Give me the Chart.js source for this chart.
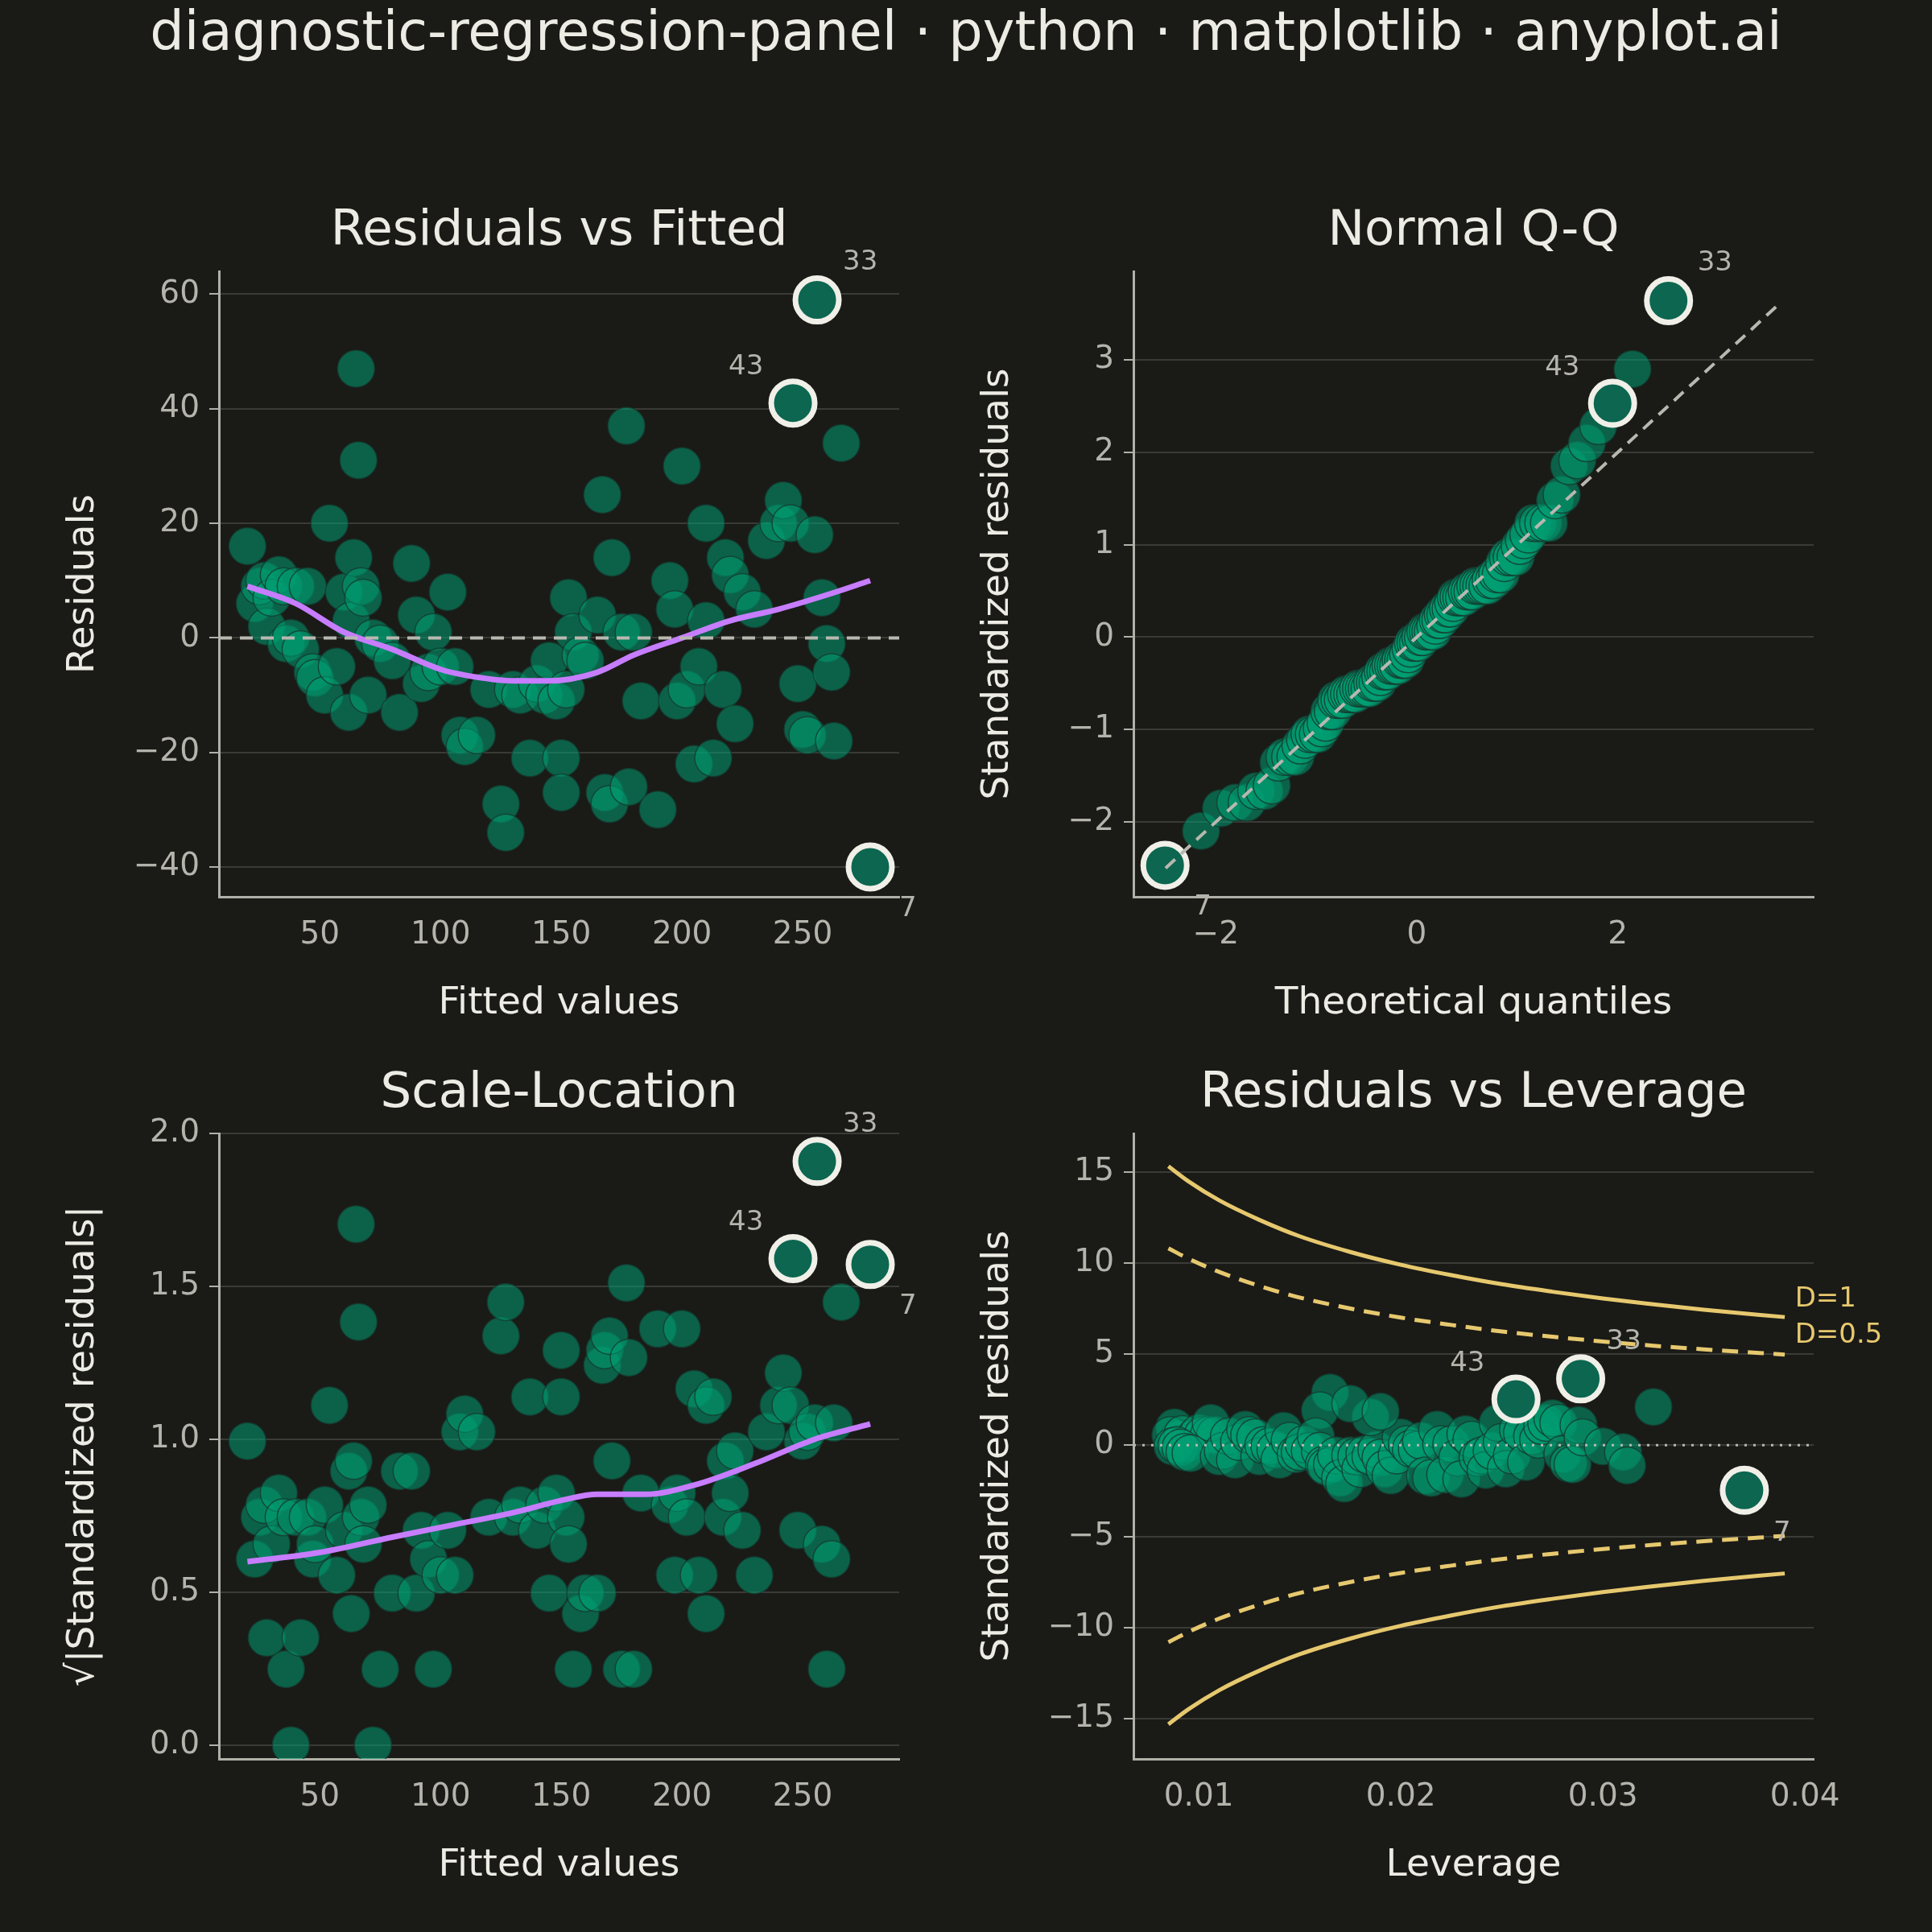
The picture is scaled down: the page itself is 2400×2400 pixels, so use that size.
<!DOCTYPE html>
<html>
<head>
<meta charset="utf-8">
<script src="https://cdn.jsdelivr.net/npm/chart.js@4.4.1/dist/chart.umd.min.js"></script>
<style>
  body { margin: 0; background: #1a1a17; width: 2400px; height: 2400px; position: relative; overflow: hidden;
         font-family: "DejaVu Sans", sans-serif; }
  canvas { position: absolute; }
  .title { position: absolute; color: #ecebe4; text-align: center; white-space: nowrap; }
</style>
</head>
<body>
<div class="title" style="left:0;width:2400px;top:0px;font-size:67px;">diagnostic-regression-panel · python · matplotlib · anyplot.ai</div>
<div class="title" style="left:272px;width:845px;top:247px;font-size:61px;">Residuals vs Fitted</div>
<div class="title" style="left:1408px;width:845px;top:247px;font-size:61px;">Normal Q-Q</div>
<div class="title" style="left:272px;width:845px;top:1318px;font-size:61px;">Scale-Location</div>
<div class="title" style="left:1408px;width:845px;top:1318px;font-size:61px;">Residuals vs Leverage</div>
<canvas id="c1"></canvas>
<canvas id="c2"></canvas>
<canvas id="c3"></canvas>
<canvas id="c4"></canvas>
<script>
// fitted values and residuals (ordinary points)
const fitted = [20,23,25,27,28,30,33,35,36,38,40,42,45,47,48,52,54,57,60,62,63,64,65,66,67,68,70,72,75,80,
  83,88,90,92,95,97,100,103,106,108,110,115,120,125,127,130,133,137,140,143,145,148,150,150,152,153,155,158,160,165,
  167,168,170,171,175,177,178,180,183,190,195,197,198,200,202,205,207,210,210,213,217,218,220,222,225,230,235,240,242,245,
  248,250,252,255,258,260,262,263,266];
const residuals = [16,6,9,10,2,7,11,9,-1,0,9,-2,9,-6,-7,-10,20,-5,8,-13,3,14,47,31,9,7,-10,0,-1,-4,
  -13,13,4,-8,-6,1,-5,8,-5,-17,-19,-17,-9,-29,-34,-9,-10,-21,-8,-10,-4,-11,-21,-27,-9,7,1,-3,-4,4,
  25,-27,-29,14,1,37,-26,1,-11,-30,10,5,-11,30,-9,-22,-5,20,3,-21,-9,14,11,-15,8,5,17,20,24,20,
  -8,-16,-17,18,7,-1,-6,-18,34];
const leverage = [0.0088,0.0090,0.0086,0.0092,0.0095,0.0098,0.0100,0.0102,0.0087,0.0089,0.0105,0.0091,0.0108,0.0093,0.0096,0.0110,0.0106,0.0112,0.0115,0.0118,
  0.0120,0.0123,0.0165,0.0160,0.0125,0.0128,0.0130,0.0132,0.0135,0.0138,0.0140,0.0142,0.0145,0.0148,0.0150,0.0152,0.0155,0.0158,0.0160,0.0162,
  0.0163,0.0166,0.0168,0.0170,0.0172,0.0175,0.0178,0.0180,0.0182,0.0185,0.0188,0.0190,0.0192,0.0195,0.0198,0.0200,0.0203,0.0205,0.0208,0.0210,
  0.0185,0.0212,0.0215,0.0218,0.0220,0.0175,0.0222,0.0225,0.0228,0.0230,0.0232,0.0235,0.0238,0.0190,0.0240,0.0242,0.0245,0.0248,0.0250,0.0252,
  0.0255,0.0258,0.0260,0.0262,0.0265,0.0268,0.0270,0.0272,0.0275,0.0278,0.0280,0.0283,0.0285,0.0288,0.0290,0.0300,0.0310,0.0312,0.0325];
// flagged observations
const flagLabels = ['33','43','7'];
const flagFitted = [256,246,278];
const flagResid = [59,41,-40];
const flagLeverage = [0.0289,0.0257,0.0370];
const sigma = 16.2;
// smoother lines
const loessX = [20,40,60,80,100,110,130,145,165,180,200,220,240,260,278];
const loessY = [9,6,1,-2,-5.5,-6.5,-7.5,-7.5,-6,-3,0,3,5,7.5,10];
const slLoessX = [20,50,80,105,130,150,165,185,205,230,255,278];
const slLoessY = [0.6,0.63,0.68,0.72,0.76,0.8,0.82,0.82,0.85,0.92,1.0,1.05];
// Cook's distance contours
const cookH = [0.0085,0.0095,0.011,0.013,0.015,0.0175,0.02,0.0225,0.025,0.0275,0.03,0.0325,0.035,0.039];
const cookD1 = [15.3,14.47,13.44,12.36,11.46,10.60,9.90,9.33,8.83,8.42,8.05,7.73,7.43,7.03];
const cookD05 = [10.8,10.23,9.51,8.74,8.10,7.50,7.00,6.60,6.24,5.95,5.69,5.46,5.26,4.97];

const BG = '#1a1a17', GRID = '#3a3a36', SPINE = '#b0b0a8', TICK = '#b5b4ac', LABEL = '#ecebe4';
const PT = 'rgba(0,158,115,0.55)', PT_EDGE = 'rgba(20,60,48,0.8)';
const FLAG = '#0c6650', FLAG_EDGE = '#f0efe8', PURPLE = '#c77dff', YELLOW = '#e6c86e';

Chart.defaults.font.family = '"DejaVu Sans", sans-serif';

// simple normal quantile (Acklam approximation) for the Q-Q panel
function qnorm(p) {
  const a = [-39.6968302866538, 220.946098424521, -275.928510446969, 138.357751867269, -30.6647980661472, 2.50662827745924];
  const b = [-54.4760987982241, 161.585836858041, -155.698979859887, 66.8013118877197, -13.2806815528857];
  const c = [-0.00778489400243029, -0.322396458041136, -2.40075827716184, -2.54973253934373, 4.37466414146497, 2.93816398269878];
  const d = [0.00778469570904146, 0.32246712907004, 2.445134137143, 3.75440866190742];
  let q, r;
  if (p < 0.02425) { q = Math.sqrt(-2 * Math.log(p));
    return (((((c[0]*q+c[1])*q+c[2])*q+c[3])*q+c[4])*q+c[5]) / ((((d[0]*q+d[1])*q+d[2])*q+d[3])*q+1); }
  if (p > 1 - 0.02425) { q = Math.sqrt(-2 * Math.log(1 - p));
    return -(((((c[0]*q+c[1])*q+c[2])*q+c[3])*q+c[4])*q+c[5]) / ((((d[0]*q+d[1])*q+d[2])*q+d[3])*q+1); }
  q = p - 0.5; r = q * q;
  return (((((a[0]*r+a[1])*r+a[2])*r+a[3])*r+a[4])*r+a[5])*q / (((((b[0]*r+b[1])*r+b[2])*r+b[3])*r+b[4])*r+1);
}

const notesPlugin = {
  id: 'notes',
  afterDatasetsDraw(chart, args, opts) {
    const ctx = chart.ctx;
    ctx.save();
    (opts.items || []).forEach(n => {
      const px = chart.scales.x.getPixelForValue(n.x) + n.dx;
      const py = chart.scales.y.getPixelForValue(n.y) + n.dy;
      ctx.font = (n.size || 34) + 'px "DejaVu Sans", sans-serif';
      ctx.fillStyle = n.color || TICK;
      ctx.textAlign = n.align || 'left';
      ctx.textBaseline = 'middle';
      ctx.fillText(n.text, px, py);
    });
    ctx.restore();
  }
};

function minus(v) { return String(v).replace('-', '\u2212'); }

function axes(xmin, xmax, xticks, xtitle, ymin, ymax, yticks, ytitle) {
  const tickStyle = { color: TICK, font: { size: 39 }, padding: 12 };
  return {
    x: { type: 'linear', min: xmin, max: xmax,
      afterBuildTicks: s => { s.ticks = xticks.map(v => ({ value: v })); },
      afterFit: s => { s.height = 165; },
      grid: { display: false, drawTicks: true, tickLength: 12, tickColor: SPINE },
      border: { color: SPINE, width: 3 },
      ticks: Object.assign({ callback: v => minus(v) }, tickStyle),
      title: { display: true, text: xtitle, color: LABEL, font: { size: 47 }, padding: { top: 10 } } },
    y: { type: 'linear', min: ymin, max: ymax,
      afterBuildTicks: s => { s.ticks = yticks.map(v => ({ value: v })); },
      afterFit: s => { s.width = 200; },
      grid: { color: GRID, lineWidth: 2, tickLength: 12, tickColor: SPINE },
      border: { color: SPINE, width: 3 },
      ticks: Object.assign({ callback: v => minus(v) }, tickStyle),
      title: { display: true, text: ytitle, color: LABEL, font: { size: 47 }, padding: { bottom: 18 } } }
  };
}

function place(id, left, top) {
  const c = document.getElementById(id);
  c.width = 845 + 200 + 140; c.height = 777 + 40 + 165;
  c.style.left = (left - 200) + 'px'; c.style.top = (top - 40) + 'px';
  return c;
}

function pointSet(data) {
  return { type: 'scatter', data, pointRadius: 23, pointBackgroundColor: PT,
    pointBorderColor: PT_EDGE, pointBorderWidth: 1.5, order: 3 };
}
function flagSet(data) {
  return { type: 'scatter', data, pointRadius: 27, pointBackgroundColor: FLAG,
    pointBorderColor: FLAG_EDGE, pointBorderWidth: 7, order: 2 };
}
function lineSet(data, color, width, dash) {
  return { type: 'line', data, borderColor: color, borderWidth: width, borderDash: dash || [],
    pointRadius: 0, fill: false, tension: 0.4, cubicInterpolationMode: 'monotone', order: 1 };
}

function makeChart(id, left, top, datasets, scales, notes) {
  new Chart(place(id, left, top), {
    type: 'scatter',
    data: { datasets },
    plugins: [notesPlugin],
    options: {
      responsive: false, devicePixelRatio: 1, animation: false,
      layout: { padding: { top: 40, right: 140, left: 0, bottom: 0 } },
      plugins: { legend: { display: false }, tooltip: { enabled: false }, notes: { items: notes } },
      scales
    }
  });
}

const stdRes = residuals.map(r => r / sigma);
const flagStd = flagResid.map(r => r / sigma);

// 1. Residuals vs Fitted
makeChart('c1', 272, 337, [
  lineSet([{ x: 8.2, y: 0 }, { x: 290, y: 0 }], '#b8b8b0', 4, [16, 10]),
  lineSet(loessX.map((x, i) => ({ x, y: loessY[i] })), PURPLE, 7),
  pointSet(fitted.map((x, i) => ({ x, y: residuals[i] }))),
  flagSet(flagFitted.map((x, i) => ({ x, y: flagResid[i] })))
], axes(8.2, 290, [50, 100, 150, 200, 250], 'Fitted values', -45.2, 64, [-40, -20, 0, 20, 40, 60], 'Residuals'), [
  { x: 256, y: 59, dx: 32, dy: -46, text: '33' },
  { x: 246, y: 41, dx: -80, dy: -44, text: '43' },
  { x: 278, y: -40, dx: 36, dy: 52, text: '7' }
]);

// 2. Normal Q-Q
const allStd = stdRes.concat(flagStd).slice().sort((a, b) => a - b);
const nAll = allStd.length;
const theo = allStd.map((_, i) => qnorm((i + 1 - 0.375) / (nAll + 0.25)));
const flagQ = flagStd.map(v => theo[allStd.indexOf(v)]);
makeChart('c2', 1408, 337, [
  lineSet([{ x: -2.5, y: -2.5 }, { x: 3.6, y: 3.6 }], '#b8b8b0', 4, [16, 10]),
  pointSet(allStd.map((y, i) => ({ x: theo[i], y })).filter(p => flagStd.indexOf(p.y) < 0)),
  flagSet(flagStd.map((y, i) => ({ x: flagQ[i], y })))
], axes(-2.82, 3.95, [-2, 0, 2], 'Theoretical quantiles', -2.81, 3.96, [-2, -1, 0, 1, 2, 3], 'Standardized residuals'), [
  { x: flagQ[0], y: flagStd[0], dx: 36, dy: -46, text: '33' },
  { x: flagQ[1], y: flagStd[1], dx: -84, dy: -44, text: '43' },
  { x: flagQ[2], y: flagStd[2], dx: 36, dy: 52, text: '7' }
]);

// 3. Scale-Location
const slY = stdRes.map(v => Math.sqrt(Math.abs(v)));
const flagSl = flagStd.map(v => Math.sqrt(Math.abs(v)));
const sc3 = axes(8.2, 290, [50, 100, 150, 200, 250], 'Fitted values', -0.045, 2.0, [0, 0.5, 1, 1.5, 2], '\u221A|Standardized residuals|');
sc3.y.ticks.callback = v => v.toFixed(1);
makeChart('c3', 272, 1408, [
  lineSet(slLoessX.map((x, i) => ({ x, y: slLoessY[i] })), PURPLE, 7),
  pointSet(fitted.map((x, i) => ({ x, y: slY[i] }))),
  flagSet(flagFitted.map((x, i) => ({ x, y: flagSl[i] })))
], sc3, [
  { x: 256, y: flagSl[0], dx: 32, dy: -46, text: '33' },
  { x: 246, y: flagSl[1], dx: -80, dy: -44, text: '43' },
  { x: 278, y: flagSl[2], dx: 36, dy: 52, text: '7' }
]);

// 4. Residuals vs Leverage
const sc4 = axes(0.00677, 0.04043, [0.01, 0.02, 0.03, 0.04], 'Leverage', -17.2, 17.1, [-15, -10, -5, 0, 5, 10, 15], 'Standardized residuals');
sc4.x.ticks.callback = v => v.toFixed(2);
makeChart('c4', 1408, 1408, [
  lineSet(cookH.map((x, i) => ({ x, y: cookD1[i] })), YELLOW, 5),
  lineSet(cookH.map((x, i) => ({ x, y: -cookD1[i] })), YELLOW, 5),
  lineSet(cookH.map((x, i) => ({ x, y: cookD05[i] })), YELLOW, 5, [20, 12]),
  lineSet(cookH.map((x, i) => ({ x, y: -cookD05[i] })), YELLOW, 5, [20, 12]),
  lineSet([{ x: 0.00677, y: 0 }, { x: 0.04043, y: 0 }], '#b8b8b0', 3, [3, 8]),
  pointSet(leverage.map((x, i) => ({ x, y: stdRes[i] }))),
  flagSet(flagLeverage.map((x, i) => ({ x, y: flagStd[i] })))
], sc4, [
  { x: flagLeverage[0], y: flagStd[0], dx: 32, dy: -46, text: '33' },
  { x: flagLeverage[1], y: flagStd[1], dx: -82, dy: -44, text: '43' },
  { x: flagLeverage[2], y: flagStd[2], dx: 36, dy: 54, text: '7' },
  { x: 0.0395, y: 8, dx: 0, dy: 0, text: 'D=1', color: YELLOW },
  { x: 0.0395, y: 6, dx: 0, dy: 0, text: 'D=0.5', color: YELLOW }
]);
</script>
</body>
</html>
